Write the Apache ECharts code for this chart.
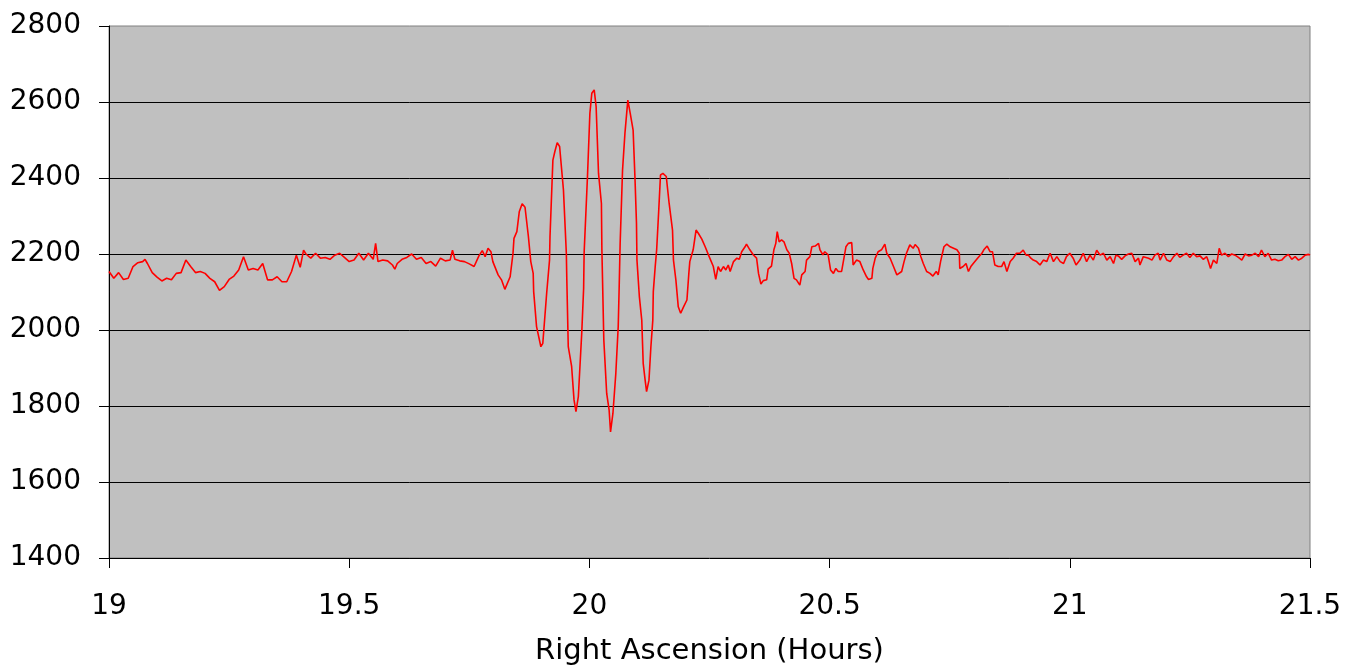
<!DOCTYPE html>
<html>
<head>
<meta charset="utf-8">
<script src="https://cdn.jsdelivr.net/npm/echarts@6/dist/echarts.min.js"></script>
<style>
html,body{margin:0;padding:0;background:#fff;}
#chart{width:1363px;height:670px;}
</style>
</head>
<body>
<div id="chart"></div>
<script>
// Right ascension (hours)
const raHours = [
19.00,19.01,19.02,19.03,19.04,19.05,19.06,19.07,19.075,19.08,19.09,19.10,19.11,19.12,19.13,19.14,19.15,19.16,19.17,19.18,19.19,19.20,
19.21,19.22,19.23,19.24,19.25,19.26,19.27,19.28,19.29,19.30,19.31,19.32,19.33,19.34,19.35,19.36,19.37,19.38,19.39,19.398,19.405,19.41,19.42,19.43,19.44,
19.45,19.46,19.47,19.48,19.49,19.50,19.51,19.52,19.53,19.54,19.55,19.555,19.56,19.57,19.58,19.59,19.595,19.60,19.61,19.62,19.63,19.64,19.65,
19.66,19.67,19.68,19.69,19.70,19.71,19.715,19.72,19.73,19.74,19.75,19.76,19.77,19.777,19.783,19.789,19.795,19.799,
19.810,19.817,19.824,19.835,19.841,19.843,19.849,19.854,19.860,19.866,19.873,19.878,19.883,19.884,19.890,19.899,19.903,19.911,19.917,19.918,
19.924,19.928,19.933,19.938,19.946,19.952,19.953,19.956,19.963,19.968,19.972,19.977,19.984,19.988,19.989,19.996,
20.001,20.005,20.010,20.014,20.019,20.025,20.026,20.030,20.036,20.041,20.044,20.049,20.055,20.060,20.062,20.064,20.069,20.074,20.080,20.081,
20.085,20.091,20.095,20.098,20.099,20.104,20.109,20.112,20.116,20.119,20.124,20.128,20.132,20.133,20.137,20.140,20.144,20.148,20.153,20.160,
20.166,20.173,20.175,20.180,20.185,20.190,20.196,20.203,20.207,20.209,20.216,20.222,20.227,20.234,20.241,20.248,
20.258,20.263,20.268,20.273,20.279,20.284,20.289,20.293,20.300,20.307,20.312,20.317,20.324,20.327,20.334,20.341,20.348,20.352,20.357,20.362,
20.369,20.372,20.379,20.384,20.388,20.391,20.395,20.400,20.405,20.411,20.416,20.421,20.426,20.431,20.438,20.442,20.449,20.452,20.459,20.463,
20.470,20.477,20.480,20.486,20.490,20.497,20.502,20.508,20.513,20.518,20.525,20.529,20.534,20.539,20.546,20.549,20.556,20.563,20.570,20.577,
20.581,20.588,20.590,20.595,20.601,20.608,20.615,20.619,20.626,20.633,20.640,20.644,20.650,20.655,20.660,20.667,20.674,20.678,20.685,
20.690,20.695,20.702,20.709,20.715,20.722,20.726,20.731,20.738,20.744,20.751,20.758,20.765,20.770,20.771,20.778,20.784,20.789,20.794,20.799,
20.808,20.817,20.821,20.828,20.834,20.839,20.844,20.851,20.858,20.863,20.869,20.876,20.882,20.889,20.896,20.903,20.909,20.914,20.919,20.924,
20.931,20.938,20.945,20.952,20.959,20.966,20.973,20.980,20.987,20.993,21.000,21.007,21.013,21.021,21.028,21.035,21.042,21.049,21.056,21.063,
21.070,21.077,21.084,21.091,21.096,21.101,21.108,21.115,21.122,21.129,21.136,21.143,21.146,21.153,21.164,21.171,21.177,21.184,21.188,21.195,
21.202,21.209,21.216,21.223,21.229,21.236,21.243,21.250,21.257,21.264,21.271,21.278,21.285,21.288,21.293,21.299,21.306,21.311,21.316,21.323,
21.330,21.337,21.344,21.351,21.358,21.365,21.372,21.379,21.386,21.393,21.399,21.406,21.413,21.420,21.427,21.434,21.441,21.448,21.455,21.462,
21.469,21.476,21.483,21.490,21.497,21.500
];
// Signal values
const intensity = [
2154,2136,2151,2133,2136,2167,2177,2180,2186,2175,2151,2139,2129,2136,2132,2149,2151,2184,2167,2151,2154,2149,
2136,2127,2104,2114,2133,2142,2158,2193,2158,2162,2158,2175,2132,2132,2140,2127,2127,2154,2197,2165,2210,2200,2189,2202,2189,
2191,2186,2197,2202,2191,2180,2184,2202,2184,2202,2186,2228,2180,2184,2182,2171,2160,2175,2186,2191,2200,2186,2191,
2175,2180,2168,2189,2182,2184,2210,2186,2182,2180,2174,2167,2195,2209,2193,2215,2206,2180,
2145,2132,2107,2140,2202,2241,2259,2311,2332,2323,2246,2180,2149,2101,2009,1956,1965,2096,2184,2246,
2447,2469,2493,2483,2368,2202,2132,1956,1904,1816,1785,1825,1991,2110,2202,2404,
2570,2623,2632,2588,2412,2333,2211,1974,1833,1790,1732,1781,1886,2009,2114,2228,2421,2518,2605,2610,
2570,2526,2395,2281,2184,2088,2026,1912,1868,1838,1868,1956,2026,2101,2167,2211,2307,2408,2412,2404,
2333,2263,2184,2132,2061,2044,2061,2079,2149,2180,2211,2263,2254,2239,2219,2197,
2167,2133,2167,2154,2167,2158,2171,2154,2180,2189,2186,2206,2219,2226,2211,2198,2189,2149,2121,2130,
2132,2160,2168,2211,2228,2259,2232,2237,2232,2211,2202,2175,2136,2132,2118,2145,2154,2184,2193,2219,
2221,2228,2211,2198,2206,2198,2158,2149,2162,2154,2154,2149,2219,2228,2230,2171,2184,2180,2158,2140,
2133,2136,2162,2189,2206,2211,2226,2202,2189,2167,2145,2140,2154,2180,2202,2224,2215,2225,2215,
2193,2175,2154,2149,2142,2154,2145,2180,2219,2226,2219,2215,2211,2202,2162,2167,2175,2154,2167,2175,
2189,2202,2211,2221,2206,2206,2171,2167,2167,2180,2154,2180,2189,2202,2202,2210,2197,2197,2189,2184,
2180,2171,2184,2180,2202,2180,2193,2180,2175,2193,2202,2189,2171,2184,2202,2180,2197,2184,2210,2197,
2202,2184,2193,2175,2197,2195,2186,2195,2200,2202,2180,2189,2171,2193,2189,2184,2197,2202,2184,2202,
2184,2180,2193,2202,2191,2197,2202,2191,2202,2193,2195,2186,2193,2182,2162,2184,2175,2215,2197,2202,
2193,2200,2197,2191,2184,2200,2195,2197,2202,2193,2210,2193,2202,2184,2186,2182,2184,2193,2199,2186,
2193,2184,2189,2197,2199,2197
];
const xTicks = { min: 19, max: 21.5, interval: 0.5 };
const yTicks = { min: 1400, max: 2800, interval: 200 };

const seriesData = raHours.map((h, i) => [h, intensity[i]]);

const chart = echarts.init(document.getElementById('chart'), null, { renderer: 'canvas' });
const fontFamily = '"DejaVu Sans", Verdana, sans-serif';
chart.setOption({
  animation: false,
  backgroundColor: '#ffffff',
  grid: {
    left: 109, right: 53, top: 26, bottom: 112,
    outerBoundsMode: 'none',
    show: true, backgroundColor: '#c0c0c0', borderColor: '#808080', borderWidth: 1
  },
  xAxis: {
    type: 'value',
    min: xTicks.min, max: xTicks.max, interval: xTicks.interval,
    name: 'Right Ascension (Hours)',
    nameLocation: 'middle', nameGap: 79,
    nameTextStyle: { fontFamily, fontSize: 29, color: '#000' },
    axisLine: { show: true, onZero: false, lineStyle: { color: '#000', width: 1 } },
    axisTick: { show: true, inside: false, length: 10, lineStyle: { color: '#000' } },
    axisLabel: { fontFamily, fontSize: 28, color: '#000', margin: 35, formatter: v => String(v) },
    splitLine: { show: false }
  },
  yAxis: {
    type: 'value',
    min: yTicks.min, max: yTicks.max, interval: yTicks.interval,
    axisLine: { show: true, lineStyle: { color: '#000', width: 1 } },
    axisTick: { show: true, inside: false, length: 10, lineStyle: { color: '#000' } },
    axisLabel: { fontFamily, fontSize: 28, color: '#000', margin: 28, padding: [0, 0, 8, 0], formatter: v => String(v) },
    splitLine: { show: true, showMinLine: false, showMaxLine: false, lineStyle: { color: '#000', width: 1 } }
  },
  series: [{
    type: 'line',
    data: seriesData,
    showSymbol: false,
    symbol: 'none',
    lineStyle: { color: '#ff0000', width: 1.6 },
    itemStyle: { color: '#ff0000' }
  }]
});
</script>
</body>
</html>
